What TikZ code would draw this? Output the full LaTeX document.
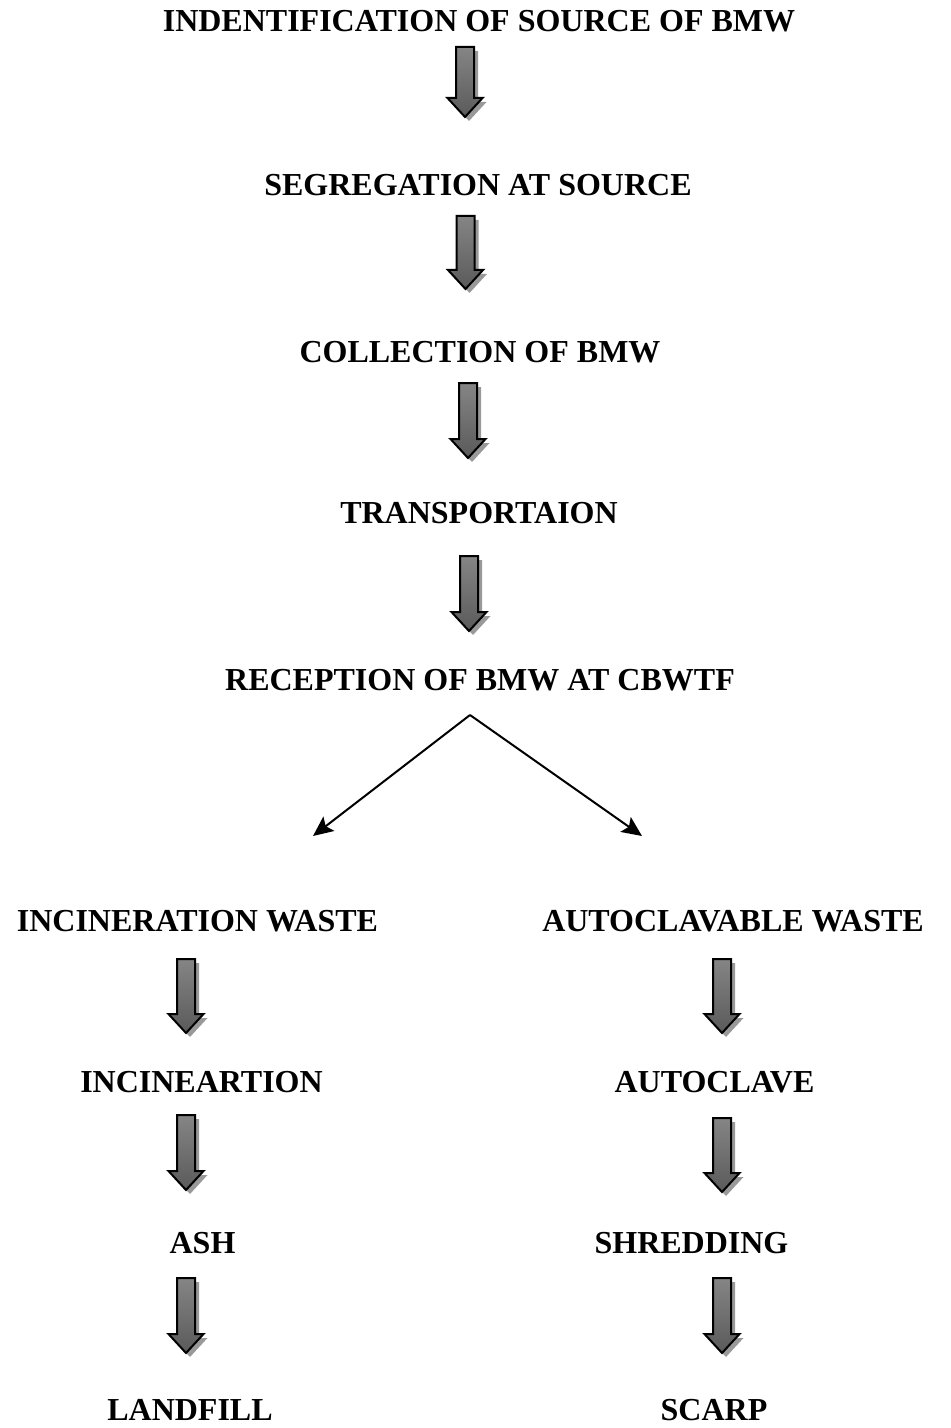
\documentclass[tikz,border=0pt]{standalone}
\usepackage{fontspec}
\setmainfont{Liberation Serif}
\usetikzlibrary{arrows.meta}
\definecolor{arrtop}{HTML}{858585}
\definecolor{arrmid}{HTML}{0C0C0C}
\definecolor{arrbot}{HTML}{5A5A5A}
\tikzset{
    step text/.style={font=\fontsize{16}{19}\selectfont\bfseries, inner sep=0pt},
    split/.style={-{Stealth[length=10pt,width=9pt,inset=2pt]}, line width=1pt}
}
% block arrow: x, top, tip
\newcommand{\blockarrow}[3]{%
    \fill[black!40] (#1-9+4,#2+4) -- (#1+9+4,#2+4) -- (#1+9+4,#3-19+4) -- (#1+17.5+4,#3-19+4)
        -- (#1+4,#3+4) -- (#1-17.5+4,#3-19+4) -- (#1-9+4,#3-19+4) -- cycle;
    \shade[top color=arrtop, middle color=arrmid, bottom color=arrbot, draw=black, line width=1pt, line join=miter]
        (#1-9,#2) -- (#1+9,#2) -- (#1+9,#3-19) -- (#1+17.5,#3-19)
        -- (#1,#3) -- (#1-17.5,#3-19) -- (#1-9,#3-19) -- cycle;
}
\begin{document}
\begin{tikzpicture}[x=0.5pt,y=-0.5pt]
    \useasboundingbox (0,0) rectangle (950,1428);
    \node[step text] (source) at (479,21.5) {INDENTIFICATION OF SOURCE OF BMW};
    \node[step text] (segregation) at (478,185) {SEGREGATION AT SOURCE};
    \node[step text] (collection) at (480,352) {COLLECTION OF BMW};
    \node[step text] (transport) at (479,513) {TRANSPORTAION};
    \node[step text] (reception) at (480,680) {RECEPTION OF BMW AT CBWTF};
    \node[step text] (incwaste) at (197.5,921) {INCINERATION WASTE};
    \node[step text] (autowaste) at (733,921) {AUTOCLAVABLE WASTE};
    \node[step text] (incin) at (201.5,1082) {INCINEARTION};
    \node[step text] (autoclave) at (714.5,1082) {AUTOCLAVE};
    \node[step text] (ash) at (202.5,1243) {ASH};
    \node[step text] (shredding) at (691.5,1243) {SHREDDING};
    \node[step text] (landfill) at (190,1410) {LANDFILL};
    \node[step text] (scarp) at (714,1410) {SCARP};
    % main line
    \blockarrow{465}{47}{117}
    \blockarrow{465.5}{216}{289}
    \blockarrow{468}{383}{458}
    \blockarrow{469}{556}{631}
    % split
    \coordinate (fork) at (470,715);
    \coordinate (leftend) at (313,836);
    \coordinate (rightend) at (642,836);
    \draw[split] (fork) -- (leftend);
    \draw[split] (fork) -- (rightend);
    % left branch
    \blockarrow{186}{959}{1033}
    \blockarrow{186}{1115}{1190}
    \blockarrow{186}{1278}{1353}
    % right branch
    \blockarrow{722}{959}{1033}
    \blockarrow{722}{1118}{1192}
    \blockarrow{722}{1278}{1353}
\end{tikzpicture}
\end{document}
